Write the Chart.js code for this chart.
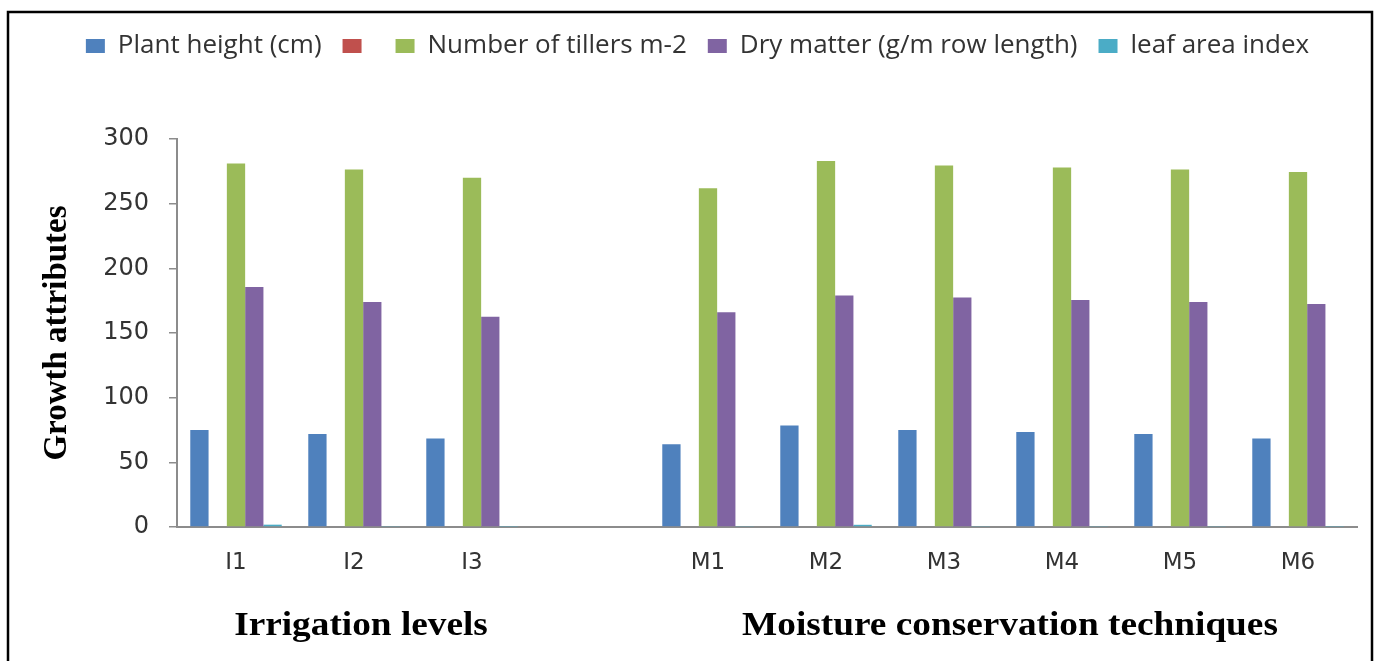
<!DOCTYPE html>
<html>
<head>
<meta charset="utf-8">
<title>Growth attributes</title>
<script src="https://cdn.jsdelivr.net/npm/chart.js@4.4.1/dist/chart.umd.min.js"></script>
<style>
  html, body { margin: 0; padding: 0; background: #ffffff; }
  canvas { display: block; }
</style>
</head>
<body>
<canvas id="growthChart" width="1380" height="661"></canvas>
<script>
// Treatments: three irrigation levels, a spacer, six moisture conservation techniques
const categories = ['I1', 'I2', 'I3', '', 'M1', 'M2', 'M3', 'M4', 'M5', 'M6'];

const plantHeight   = [75, 72, 68.5, null, 64, 78.5, 75, 73.5, 72, 68.5];
const unnamedSeries = [0, 0, 0, null, 0, 0, 0, 0, 0, 0];
const tillers       = [281, 276.5, 270, null, 262, 283, 279.5, 278, 276.5, 274.5];
const dryMatter     = [185.5, 174, 162.5, null, 166, 179, 177.5, 175.5, 174, 172.5];
const leafAreaIndex = [1.8, 0.4, 0.3, null, 0.4, 1.7, 0.4, 0.4, 0.4, 0.3];

const seriesLabels = ['Plant height (cm)', '', 'Number of tillers m-2',
                      'Dry matter (g/m row length)', 'leaf area index'];
const yTicks = [0, 50, 100, 150, 200, 250, 300];

const groupTitles = [
  { text: 'Irrigation levels', from: 'I1', to: 'I3' },
  { text: 'Moisture conservation techniques', from: 'M1', to: 'M6' }
];

const seriesColors = ['#4F81BD', '#C0504D', '#9BBB59', '#8064A2', '#4BACC6'];
const seriesData = [plantHeight, unnamedSeries, tillers, dryMatter, leafAreaIndex];

// Frame, white page and the two group captions under the category axis
const decorations = {
  id: 'decorations',
  afterInit(chart) {
    const legend = chart.legend;
    const fit = legend.fit.bind(legend);
    legend.fit = function () { fit(); this.height = 127; };
  },
  beforeDraw(chart) {
    const ctx = chart.ctx;
    ctx.save();
    ctx.fillStyle = '#ffffff';
    ctx.fillRect(0, 0, chart.width, chart.height);
    ctx.restore();
  },
  afterDraw(chart) {
    const ctx = chart.ctx;
    const x = chart.scales.x;
    ctx.save();
    ctx.font = 'bold 33px "Liberation Serif"';
    ctx.fillStyle = '#000000';
    ctx.textAlign = 'center';
    ctx.textBaseline = 'alphabetic';
    groupTitles.forEach(g => {
      const a = x.getPixelForValue(categories.indexOf(g.from));
      const b = x.getPixelForValue(categories.indexOf(g.to));
      ctx.save();
      ctx.translate((a + b) / 2 + 7, chart.chartArea.bottom + 108);
      ctx.scale(1.13, 1);
      ctx.fillText(g.text, 0, 0);
      ctx.restore();
    });
    ctx.lineWidth = 2.5;
    ctx.strokeStyle = '#000000';
    ctx.strokeRect(8, 12, 1364, 700);
    ctx.restore();
  }
};

new Chart(document.getElementById('growthChart'), {
  type: 'bar',
  data: {
    labels: categories,
    datasets: seriesData.map((d, i) => ({
      label: seriesLabels[i],
      data: d,
      backgroundColor: seriesColors[i],
      borderWidth: 0,
      barPercentage: 1.0,
      categoryPercentage: 0.775
    }))
  },
  options: {
    responsive: false,
    animation: false,
    layout: { padding: { left: 38, right: 23, top: 12, bottom: 0 } },
    plugins: {
      legend: {
        position: 'top',
        align: 'center',
        labels: {
          boxWidth: 19,
          boxHeight: 14,
          padding: 21,
          color: '#333333',
          font: { family: '"Open Sans"', size: 26 }
        }
      },
      tooltip: { enabled: false }
    },
    scales: {
      x: {
        grid: { display: false, drawTicks: false },
        border: { display: true, color: '#8c8c8c', width: 2 },
        ticks: {
          color: '#333333',
          padding: 22,
          font: { family: '"DejaVu Sans"', size: 23 },
          maxRotation: 0,
          autoSkip: false
        },
        afterFit(scale) { scale.height = 134; }
      },
      y: {
        min: 0,
        max: 300,
        afterBuildTicks(scale) { scale.ticks = yTicks.map(v => ({ value: v })); },
        grid: {
          drawOnChartArea: false,
          drawTicks: true,
          tickLength: 8,
          color: '#8c8c8c',
          lineWidth: 1.5
        },
        border: { display: true, color: '#8c8c8c', width: 2 },
        ticks: {
          color: '#333333',
          padding: 20,
          font: { family: '"DejaVu Sans"', size: 24 }
        },
        title: {
          display: true,
          text: 'Growth attributes',
          color: '#000000',
          padding: 0,
          font: { family: '"Liberation Serif"', size: 33, weight: 'bold' }
        },
        afterFit(scale) { scale.width = 139; }
      }
    }
  },
  plugins: [decorations]
});
</script>
</body>
</html>
